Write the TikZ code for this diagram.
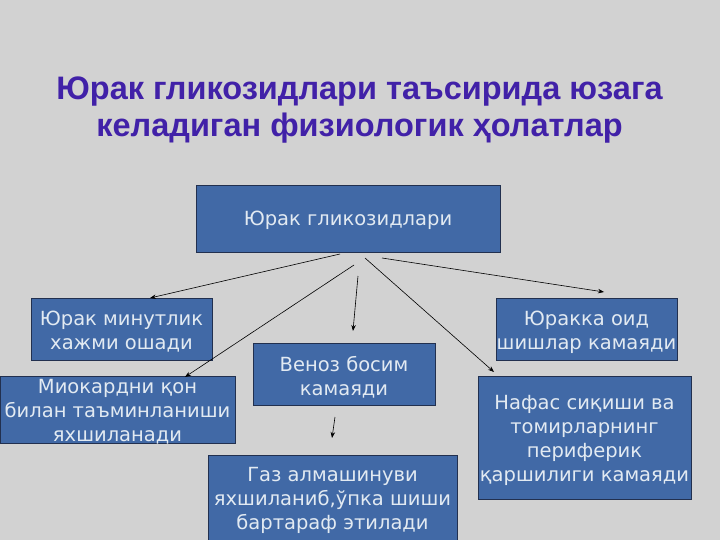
\documentclass[tikz,border=0pt]{standalone}
\usepackage{fontspec}
\setmainfont{DejaVu Sans}
\newfontfamily\titlefont{Liberation Sans}
\usetikzlibrary{arrows.meta}
\definecolor{bg}{HTML}{D2D2D2}
\definecolor{boxfill}{HTML}{4169A6}
\definecolor{boxline}{HTML}{22304F}
\definecolor{boxtext}{HTML}{E2EAF2}
\definecolor{titlecol}{HTML}{4121A8}
\tikzset{
  blockbox/.style={rectangle, draw=boxline, fill=boxfill, line width=0.8pt, inner sep=0pt},
  blocktext/.style={text=boxtext, align=center, inner sep=0pt,
    font=\fontsize{19.5}{24}\selectfont},
  conn/.style={-{Stealth[length=6pt,width=4.5pt]}, line width=0.6pt, black},
  titletext/.style={font=\titlefont\bfseries\fontsize{32.5}{36}\selectfont, anchor=base, text=titlecol}
}
\begin{document}
\begin{tikzpicture}[x=1pt,y=-1pt]
\useasboundingbox (0,0) rectangle (720,540);
\fill[bg] (0,0) rectangle (720,540);
% title
\node[titletext] (t1) at (359.5,99.5) {Юрак гликозидлари таъсирида юзага};
\node[titletext] (t2) at (359.5,136.5) {келадиган физиологик ҳолатлар};
% boxes
\node[blockbox, minimum width=304, minimum height=67] (top) at (348,218.5) {};
\node[blockbox, minimum width=181, minimum height=62] (a) at (121.5,329) {};
\node[blockbox, minimum width=181, minimum height=62] (b) at (586.5,329) {};
\node[blockbox, minimum width=235, minimum height=67] (c) at (117.5,409.5) {};
\node[blockbox, minimum width=182, minimum height=62] (d) at (344,374) {};
\node[blockbox, minimum width=213, minimum height=123] (e) at (584.5,437.5) {};
\node[blockbox, minimum width=249, minimum height=90, anchor=north] (f) at (332.5,455) {};
% box texts
\node[blocktext] (topT) at (348,220) {Юрак гликозидлари};
\node[blocktext] (aT) at (121.5,332) {Юрак минутлик\\хажми ошади};
\node[blocktext] (bT) at (586.5,332) {Юракка оид\\шишлар камаяди};
\node[blocktext] (cT) at (117.5,412) {Миокардни қон\\билан таъминланиши\\яхшиланади};
\node[blocktext] (dT) at (344,377) {Веноз босим\\камаяди};
\node[blocktext] (eT) at (584.5,440) {Нафас сиқиши ва\\томирларнинг\\периферик\\қаршилиги камаяди};
\node[blocktext] (fT) at (332.5,500) {Газ алмашинуви\\яхшиланиб,ўпка шиши\\бартараф этилади};
% connector ends
\coordinate (s1) at (340,254);
\coordinate (e1) at (150,298);
\coordinate (s2) at (354,265);
\coordinate (e2) at (185,377);
\coordinate (s3) at (358,276);
\coordinate (e3) at (353,331);
\coordinate (s4) at (365,258);
\coordinate (e4) at (494,372);
\coordinate (s5) at (382,258);
\coordinate (e5) at (604,292);
\coordinate (s6) at (335,417);
\coordinate (e6) at (332,438);
\draw[conn] (s1) -- (e1);
\draw[conn] (s2) -- (e2);
\draw[conn] (s3) -- (e3);
\draw[conn] (s4) -- (e4);
\draw[conn] (s5) -- (e5);
\draw[conn] (s6) -- (e6);
\end{tikzpicture}
\end{document}
